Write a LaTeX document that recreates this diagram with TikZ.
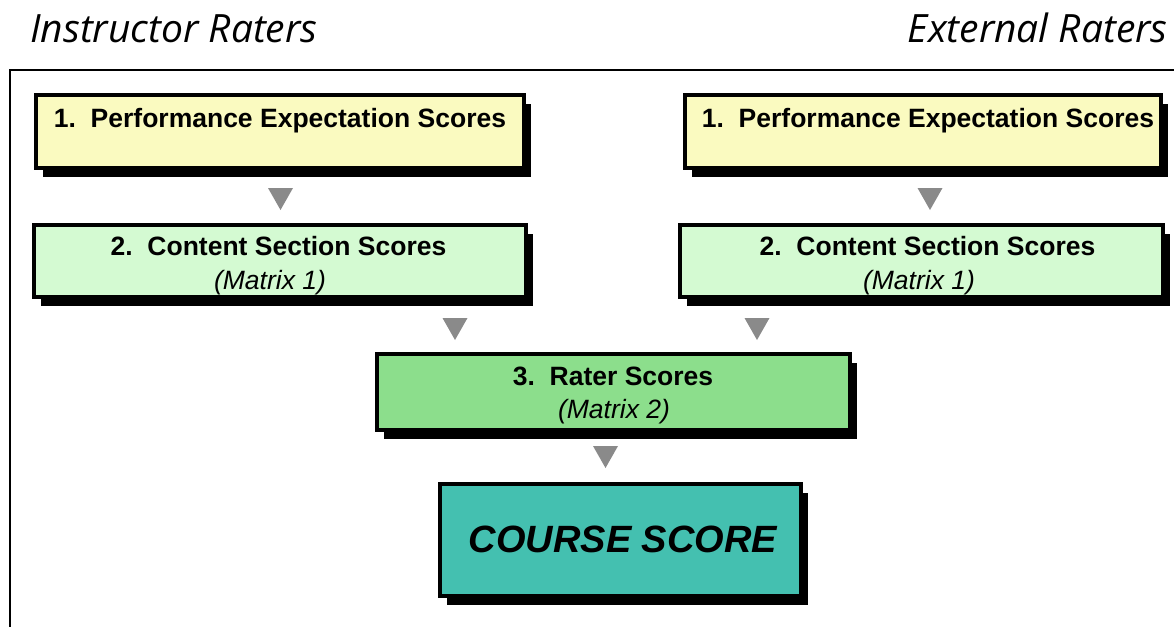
\documentclass[tikz,border=0pt]{standalone}
\usepackage{fontspec}
\setmainfont{Liberation Sans}
\newfontfamily\raterfont{Open Sans}
\usepackage{tikz}
\usetikzlibrary{shadows}

\definecolor{expyellow}{RGB}{250,250,192}
\definecolor{contgreen}{RGB}{212,250,210}
\definecolor{ratergreen}{RGB}{140,222,140}
\definecolor{courseteal}{RGB}{68,192,176}
\definecolor{tri}{RGB}{138,138,138}

\begin{document}
\begin{tikzpicture}[x=1pt,y=-1pt,
  scorebox/.style={draw,line width=4pt,inner sep=0pt,
    drop shadow={shadow xshift=7pt,shadow yshift=-9pt,fill=black,opacity=1}},
  headtxt/.style={anchor=base,inner sep=0pt,font={\fontsize{26.5}{30}\selectfont\bfseries}},
  subtxt/.style={anchor=base,inner sep=0pt,font={\fontsize{26.5}{30}\selectfont\itshape}},
  ratertxt/.style={inner sep=0pt,font={\raterfont\fontsize{39}{42}\selectfont\itshape}}]
\useasboundingbox (0,0) rectangle (1174,626);
% outer frame
\draw[line width=2pt] (10,640) -- (10,70) -- (1180,70);
\node[ratertxt,anchor=base west] (instr) at (30,42) {Instructor Raters};
\node[ratertxt,anchor=base east] (extern) at (1168,42) {External Raters};
% boxes
\node[scorebox,fill=expyellow,minimum width=488pt,minimum height=73pt] (b1l) at (280,131.5) {};
\node[scorebox,fill=expyellow,minimum width=476pt,minimum height=73pt] (b1r) at (923,131.5) {};
\node[scorebox,fill=contgreen,minimum width=492pt,minimum height=72pt] (b2l) at (280,261) {};
\node[scorebox,fill=contgreen,minimum width=483pt,minimum height=72pt] (b2r) at (921.5,261) {};
\node[scorebox,fill=ratergreen,minimum width=473pt,minimum height=76pt] (b3) at (613.5,392) {};
\node[scorebox,fill=courseteal,minimum width=361pt,minimum height=112pt] (b4) at (620.5,540) {};
% texts
\node[headtxt] (t1l) at (280,127) {1.\ \ Performance Expectation Scores};
\node[headtxt] (t1r) at (928,127) {1.\ \ Performance Expectation Scores};
\node[headtxt] (t2l) at (278.5,255) {2.\ \ Content Section Scores};
\node[subtxt] (m2l) at (270,289) {(Matrix 1)};
\node[headtxt] (t2r) at (927.5,255) {2.\ \ Content Section Scores};
\node[subtxt] (m2r) at (919,289) {(Matrix 1)};
\node[headtxt] (t3) at (613,385) {3.\ \ Rater Scores};
\node[subtxt] (m3) at (614,418) {(Matrix 2)};
\node[anchor=base,inner sep=0pt,font={\fontsize{38}{42}\selectfont\bfseries\itshape}] (course) at (623,552) {COURSE SCORE};
% down triangles
\foreach \x/\y in {280.5/188,930/188,455/318,757/318,605.5/446}
  \fill[tri] (\x-12.5,\y) -- (\x+12.5,\y) -- (\x,\y+22) -- cycle;
\end{tikzpicture}
\end{document}
